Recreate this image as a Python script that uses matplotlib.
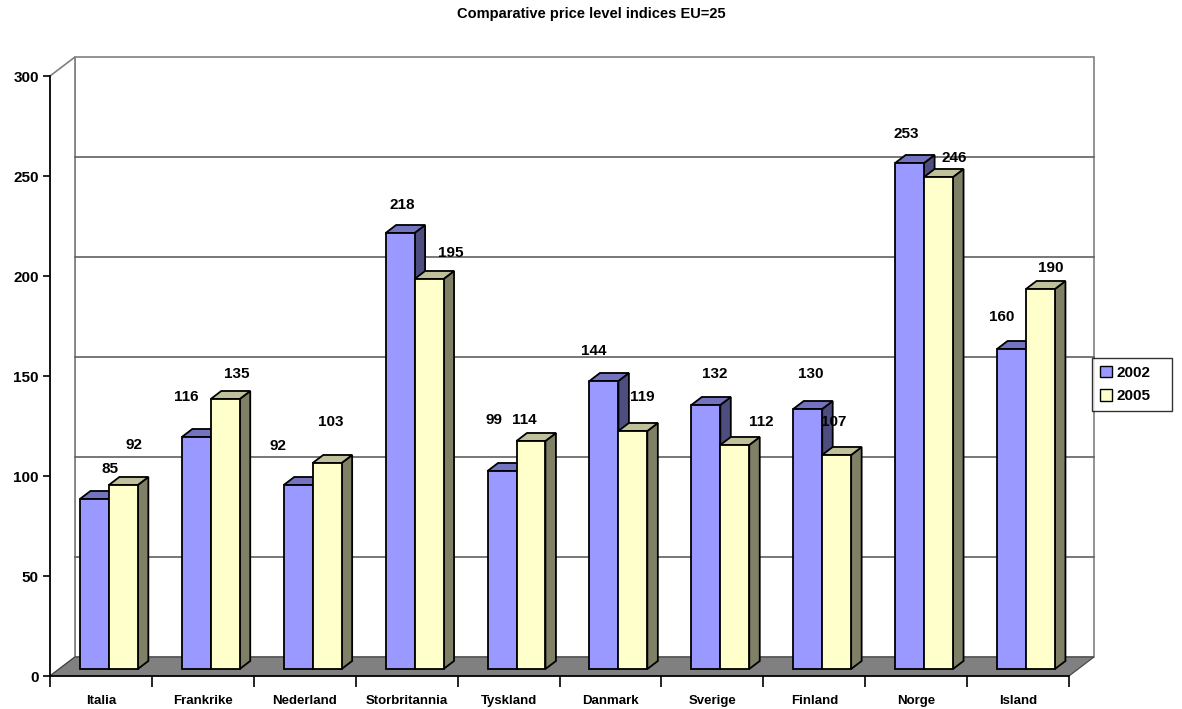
import matplotlib.pyplot as plt
from matplotlib.patches import Polygon, Rectangle, Patch

plt.rcParams['font.family'] = ['Liberation Sans', 'DejaVu Sans']

countries = ['Italia', 'Frankrike', 'Nederland', 'Storbritannia', 'Tyskland',
             'Danmark', 'Sverige', 'Finland', 'Norge', 'Island']
years = ['2002', '2005']
v2002 = [85, 116, 92, 218, 99, 144, 132, 130, 253, 160]
v2005 = [92, 135, 103, 195, 114, 119, 112, 107, 246, 190]
yticks = [0, 50, 100, 150, 200, 250, 300]

# label nudges in pixels (Excel put them a bit all over the place)
off2002 = [(16, 30), (-10, 40), (-20, 39), (2, 28), (-8, 51),
           (-10, 30), (9, 31), (3, 35), (-3, 29), (-10, 32)]
off2005 = [(11, 40), (11, 25), (4, 41), (22, 26), (-7, 21),
           (9, 34), (27, 23), (-3, 33), (16, 19), (10, 21)]

front_col = ['#9999ff', '#ffffcc']
top_col = ['#7373c0', '#c0c09a']
side_col = ['#4d4d80', '#808066']

fig = plt.figure(figsize=(11.82, 7.09), dpi=100)
ax = fig.add_axes([50 / 1182, 33 / 709, 1019 / 1182, 600 / 709])
ax.set_xlim(0, len(countries))
ax.set_ylim(0, 300)

# depth of the 3d box in data units
ddx = 25 / 102
ddy = 9.5
d0 = 0.37          # where the bars start in depth
dd = 0.42          # bar depth
bw = 0.284
gap = 0.2034

n = len(countries)
# walls and floor
ax.add_patch(Polygon([(ddx, ddy), (n + ddx, ddy), (n + ddx, 300 + ddy), (ddx, 300 + ddy)],
                     closed=True, facecolor='white', edgecolor='#808080', lw=1.2,
                     clip_on=False, zorder=0))
ax.add_patch(Polygon([(0, 0), (ddx, ddy), (ddx, 300 + ddy), (0, 300)],
                     closed=True, facecolor='white', edgecolor='#808080', lw=1.2,
                     clip_on=False, zorder=0))
for t in yticks[1:-1]:
    ax.plot([ddx, n + ddx], [t + ddy, t + ddy], color='#606060', lw=1.2,
            clip_on=False, zorder=0.5)
ax.add_patch(Polygon([(0, 0), (n, 0), (n + ddx, ddy), (ddx, ddy)],
                     closed=True, facecolor='#808080', edgecolor='#404040', lw=0.8,
                     clip_on=False, zorder=1))

sx, sy = dd * ddx, dd * ddy
ox, oy = d0 * ddx, d0 * ddy
for i in range(n):
    for k, vals in enumerate([v2002, v2005]):
        v = vals[i]
        xl = i + gap + k * bw + ox
        xr = xl + bw
        y0 = oy
        y1 = v + oy
        z = 2 + i * 3 + k
        ax.add_patch(Polygon([(xr, y0), (xr, y1), (xr + sx, y1 + sy), (xr + sx, y0 + sy)],
                             closed=True, facecolor=side_col[k], edgecolor='black',
                             lw=1.3, zorder=z, clip_on=False))
        ax.add_patch(Polygon([(xl, y1), (xr, y1), (xr + sx, y1 + sy), (xl + sx, y1 + sy)],
                             closed=True, facecolor=top_col[k], edgecolor='black',
                             lw=1.3, zorder=z, clip_on=False))
        ax.add_patch(Rectangle((xl, y0), bw, v, facecolor=front_col[k],
                               edgecolor='black', lw=1.3, zorder=z + 0.5, clip_on=False))
        off = (off2002 if k == 0 else off2005)[i]
        ax.annotate(str(v), xy=((xl + xr) / 2, y1), xytext=(off[0], off[1]),
                    textcoords='offset pixels', ha='center', va='center',
                    fontsize=11, fontweight='bold', zorder=50)

# axes
for s in ['top', 'right']:
    ax.spines[s].set_visible(False)
ax.spines['left'].set_linewidth(1.2)
ax.spines['bottom'].set_linewidth(1.2)
ax.set_yticks(yticks)
ax.set_yticklabels([str(t) for t in yticks], fontsize=11, fontweight='bold')
ax.tick_params(axis='y', length=5, width=1.2, pad=3)
ax.set_xticks(range(n + 1))
ax.set_xticklabels([])
ax.set_xticks([i + 0.5 for i in range(n)], minor=True)
ax.set_xticklabels(countries, minor=True, fontsize=9.5, fontweight='bold')
ax.tick_params(axis='x', which='major', length=8, width=1.2)
ax.tick_params(axis='x', which='minor', length=0, pad=14)
ax.patch.set_visible(False)

fig.text(0.5, 1 - 14 / 709, 'Comparative price level indices EU=25',
         ha='center', va='center', fontsize=10.5, fontweight='bold')

handles = [Patch(facecolor=front_col[k], edgecolor='black', lw=1) for k in range(2)]
leg = fig.legend(handles, years, loc='upper left', mode='expand',
                 bbox_to_anchor=(1092 / 1182, 1 - 410 / 709, 80 / 1182, 52 / 709),
                 prop={'size': 11, 'weight': 'bold'}, frameon=True, fancybox=False,
                 handlelength=0.8, handleheight=0.8, handletextpad=0.3,
                 borderpad=0.5, labelspacing=0.6, borderaxespad=0)
leg.get_frame().set_edgecolor('black')
leg.get_frame().set_linewidth(1)

fig.savefig('out.png', dpi=100)
